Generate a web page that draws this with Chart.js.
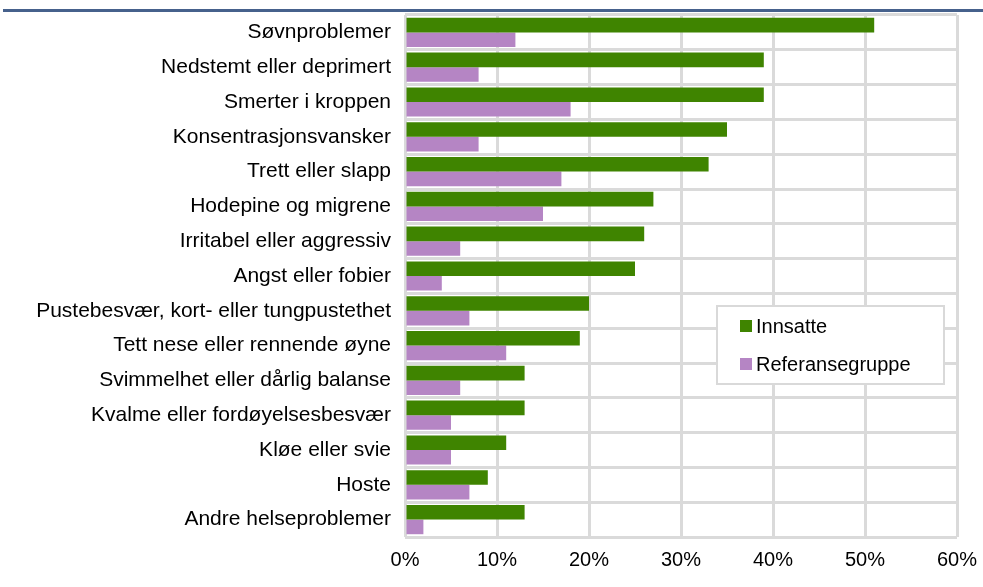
<!DOCTYPE html>
<html>
<head>
<meta charset="utf-8">
<script src="https://cdn.jsdelivr.net/npm/chart.js@4/dist/chart.umd.min.js"></script>
<style>
  html, body { margin: 0; padding: 0; background: #ffffff; }
  #wrap { width: 983px; height: 587px; position: relative; }
</style>
</head>
<body>
<div id="wrap"><canvas id="chart" width="983" height="587"></canvas></div>
<script>
// Kategorier og verdier (prosent)
const kategorier = [
    'Søvnproblemer',
    'Nedstemt eller deprimert',
    'Smerter i kroppen',
    'Konsentrasjonsvansker',
    'Trett eller slapp',
    'Hodepine og migrene',
    'Irritabel eller aggressiv',
    'Angst eller fobier',
    'Pustebesvær, kort- eller tungpustethet',
    'Tett nese eller rennende øyne',
    'Svimmelhet eller dårlig balanse',
    'Kvalme eller fordøyelsesbesvær',
    'Kløe eller svie',
    'Hoste',
    'Andre helseproblemer'
];
const innsatte = [51, 39, 39, 35, 33, 27, 26, 25, 20, 19, 13, 13, 11, 9, 13];
const referansegruppe = [12, 8, 18, 8, 17, 15, 6, 4, 7, 11, 6, 5, 5, 7, 2];
const xTicks = [0, 10, 20, 30, 40, 50, 60];

const font = 'Liberation Sans, Arial, sans-serif';

// Blå linje øverst
const topLinje = {
    id: 'topLinje',
    beforeDraw(chart) {
        const ctx = chart.ctx;
        ctx.save();
        ctx.fillStyle = '#46618c';
        ctx.fillRect(3, 9, 980, 3);
        ctx.restore();
    }
};

// Forklaring inne i diagrammet
const forklaring = {
    id: 'forklaring',
    afterDraw(chart) {
        const ctx = chart.ctx;
        ctx.save();
        ctx.fillStyle = '#ffffff';
        ctx.fillRect(717, 306, 227, 78);
        ctx.strokeStyle = '#d9d9d9';
        ctx.lineWidth = 2;
        ctx.strokeRect(717, 306, 227, 78);
        ctx.font = '20px ' + font;
        ctx.textBaseline = 'middle';
        chart.data.datasets.forEach((ds, i) => {
            const y = 326 + i * 38;
            ctx.fillStyle = ds.backgroundColor;
            ctx.fillRect(740, y - 6, 12, 12);
            ctx.fillStyle = '#000000';
            ctx.fillText(ds.label, 756, y + 1);
        });
        ctx.restore();
    }
};

// Fjerner ekstra luft som skalaene legger til
function nullPadding(scale) {
    scale.paddingTop = 0;
    scale.paddingBottom = 0;
    scale.paddingLeft = 0;
    scale.paddingRight = 0;
}

const ctx = document.getElementById('chart').getContext('2d');
const chart = new Chart(ctx, {
    type: 'bar',
    data: {
        labels: kategorier,
        datasets: [
            { label: 'Innsatte', data: innsatte, backgroundColor: '#3f8400' },
            { label: 'Referansegruppe', data: referansegruppe, backgroundColor: '#b585c4' }
        ]
    },
    options: {
        indexAxis: 'y',
        responsive: false,
        animation: false,
        layout: { padding: { top: 15, right: 26, left: 0, bottom: 0 } },
        datasets: { bar: { categoryPercentage: 0.84, barPercentage: 1 } },
        plugins: {
            legend: { display: false },
            tooltip: { enabled: false }
        },
        scales: {
            x: {
                min: 0,
                max: 60,
                afterBuildTicks(scale) {
                    scale.ticks = xTicks.map(v => ({ value: v }));
                },
                afterFit(scale) { scale.height = 50; nullPadding(scale); },
                grid: { color: '#dadada', lineWidth: 3, drawTicks: false },
                border: { display: false },
                ticks: {
                    padding: 11,
                    color: '#000000',
                    maxRotation: 0,
                    font: { family: font, size: 20 },
                    callback: v => v + '%'
                }
            },
            y: {
                afterFit(scale) { scale.width = 405; nullPadding(scale); },
                grid: { color: '#dadada', lineWidth: 3, drawTicks: false, offset: true },
                border: { display: false },
                ticks: {
                    padding: 14,
                    color: '#000000',
                    autoSkip: false,
                    font: { family: font, size: 21 }
                }
            }
        }
    },
    plugins: [topLinje, forklaring]
});
</script>
</body>
</html>
